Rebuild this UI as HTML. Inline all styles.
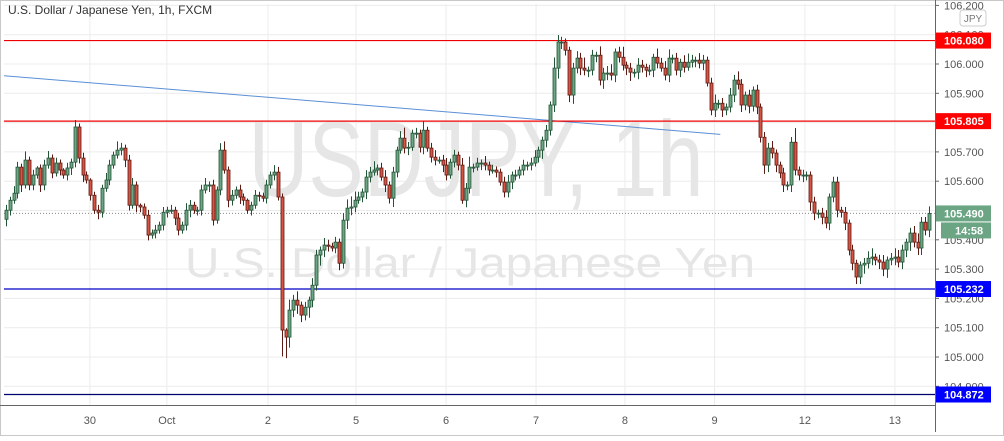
<!DOCTYPE html>
<html><head><meta charset="utf-8"><style>
body{margin:0;background:#fff;width:1004px;height:436px;overflow:hidden;font-family:"Liberation Sans",sans-serif}
svg text{font-family:"Liberation Sans",sans-serif}
</style></head><body>
<svg id="chart" width="1004" height="436" viewBox="0 0 1004 436" xmlns="http://www.w3.org/2000/svg">
<rect x="0.5" y="0.5" width="1003" height="435" fill="#fff" stroke="#c8c8c8"/>
<g id="grid"></g>
<text x="476" y="196" font-size="108" fill="#e6e6e6" text-anchor="middle" textLength="455" lengthAdjust="spacingAndGlyphs">USDJPY, 1h</text>
<text x="470" y="277" font-size="42" fill="#e6e6e6" text-anchor="middle" textLength="570" lengthAdjust="spacingAndGlyphs">U.S. Dollar / Japanese Yen</text>
<g id="lines"></g>
<g id="candles"></g>
<g id="axes"></g>
<text x="8" y="14" font-size="12" fill="#333">U.S. Dollar / Japanese Yen, 1h, FXCM</text>
</svg>
<script>
const closes=[105.501,105.535,105.559,105.648,105.587,105.672,105.587,105.621,105.645,105.587,105.655,105.679,105.628,105.662,105.638,105.621,105.645,105.665,105.785,105.679,105.621,105.604,105.552,105.501,105.494,105.576,105.604,105.655,105.689,105.706,105.713,105.672,105.518,105.587,105.518,105.512,105.484,105.416,105.423,105.433,105.450,105.494,
105.501,105.501,105.474,105.433,105.450,105.501,105.518,105.501,105.501,105.570,105.587,105.587,105.467,105.570,105.706,105.638,105.535,105.552,105.570,105.546,105.535,105.501,105.518,105.552,105.549,105.542,105.587,105.621,105.631,105.546,105.092,105.068,105.160,105.194,105.177,105.143,105.170,105.194,105.245,105.348,105.365,105.382,105.378,105.372,105.392,105.320,105.467,105.508,105.512,105.535,
105.546,105.563,105.614,105.631,105.638,105.645,105.614,105.587,105.542,105.631,105.706,105.747,105.713,105.716,105.764,105.764,105.716,105.774,105.713,105.682,105.672,105.672,105.655,105.621,105.665,105.689,105.655,105.535,105.576,105.648,105.648,105.662,105.662,105.655,105.638,105.638,105.631,105.597,105.563,105.597,105.621,105.621,105.638,105.655,105.655,105.662,105.682,
105.706,105.740,105.774,105.860,105.986,106.075,106.075,106.047,105.894,105.986,106.020,105.986,105.979,105.979,106.030,106.030,105.945,105.969,105.969,105.962,106.041,106.023,105.996,105.986,105.972,105.972,105.996,105.989,105.979,105.979,106.023,106.003,105.986,105.962,106.020,106.020,105.979,106.006,105.989,106.006,106.013,106.013,106.003,106.013,105.935,105.843,105.866,105.866,105.843,
105.853,105.894,105.945,105.931,105.860,105.894,105.856,105.911,105.853,105.750,105.655,105.713,105.696,105.655,105.628,105.587,105.587,105.733,105.638,105.621,105.621,105.621,105.529,105.491,105.491,105.477,105.457,105.546,105.597,105.501,105.494,105.457,105.365,105.320,105.273,105.314,105.320,105.337,105.341,105.331,105.324,105.300,105.331,105.337,105.341,105.324,105.365,105.392,105.423,105.392,105.372,105.460,105.433,105.490];
const firstOpen=105.470;
const wickUp=[3,2,4,3,2,5,2,3,1,2,3,4,2,3,2,1,3,2,4,2,3,2,1,2,3,2,4,3,2,5,3,2,3,4,2,1,2,3,2,3,2,3,
2,3,2,3,2,4,3,2,2,3,4,2,3,2,4,5,2,3,2,3,2,1,2,3,2,2,3,2,4,3,2,1,6,3,5,2,3,2,4,3,2,4,3,2,3,2,4,5,6,5,3,
2,4,3,5,2,3,4,2,3,2,4,6,3,2,3,2,5,2,3,4,2,3,4,2,3,2,4,3,6,2,3,2,4,2,3,2,2,3,4,2,3,2,3,2,3,4,2,
2,3,2,6,4,3,2,2,3,4,3,6,2,3,2,5,3,4,5,2,3,6,2,3,2,4,3,2,3,2,5,3,4,5,2,3,2,4,5,3,2,4,3,2,3,5,2,3,2,
4,3,5,3,2,3,2,3,2,3,3,4,2,2,3,2,3,8,2,3,2,2,3,2,3,4,2,3,3,2,3,2,3,2,2,3,4,5,2,3,4,2,3,5,4,3,2,3,4,5,3,3,4,3];
const wickDn=[4,3,2,3,4,2,3,3,2,4,3,2,3,2,3,2,3,4,3,3,4,2,3,2,4,3,2,3,2,2,3,4,3,2,4,3,2,3,2,3,2,3,
3,2,4,3,2,3,4,2,3,3,2,4,3,2,3,2,4,3,2,4,3,2,3,2,3,2,3,2,3,2,15,12,6,4,5,4,3,6,4,3,6,4,3,2,3,4,3,5,4,3,2,
3,4,3,2,3,2,4,3,5,3,2,3,4,2,3,3,4,2,3,3,2,4,3,2,3,3,2,4,3,3,2,4,3,3,2,3,2,3,3,4,3,2,3,3,3,2,3,
5,4,3,4,6,4,3,4,5,3,4,3,4,3,4,3,5,4,3,4,3,3,4,5,3,4,3,4,3,4,3,2,3,4,3,3,4,3,2,3,4,3,4,2,3,4,3,4,3,
3,4,3,4,3,4,3,4,3,5,4,3,4,3,4,3,4,3,3,4,3,5,4,3,4,3,4,3,4,3,4,3,4,4,4,5,3,4,3,4,4,5,3,4,3,4,4,5,3,4,4,3,4,3];
const priceTicks=[106.2,106.1,106.0,105.9,105.8,105.7,105.6,105.5,105.4,105.3,105.2,105.1,105.0,104.9];
const timeTickLabels=["30","Oct","2","5","6","7","8","9","12","13"];
const timeTickIdx=[21.9,42,68.4,91.4,114.9,138.4,161.6,185,208.6,232.1];
const levelPrices=[106.080,105.805,105.232,104.872];
const levelColors=["#f00000","#f00000","#0000c8","#00006e"];
const levelBoxColors=["#ff0000","#ff0000","#0000ff","#0000ff"];
const trendStart=[-0.5,105.960];const trendEnd=[186.5,105.760];
const lastPrice=105.490;

const NS="http://www.w3.org/2000/svg";
const PL=4,PR=935,PT=4,PB=405;
const y=p=>64+(106-p)*293;
const x=i=>6+i*(929-6)/(closes.length-1);
function mk(t,a,parent){const e=document.createElementNS(NS,t);for(const k in a)e.setAttribute(k,a[k]);parent.appendChild(e);return e;}
const grid=document.getElementById('grid'),lines=document.getElementById('lines'),cg=document.getElementById('candles'),ax=document.getElementById('axes');
priceTicks.forEach(p=>{const l=mk('line',{x1:PL,x2:PR,y1:y(p),y2:y(p),stroke:'#ececec'},grid);

});
timeTickIdx.forEach((t,k)=>{const l=mk('line',{x1:x(t),x2:x(t),y1:PT,y2:PB,stroke:'#ececec'},grid);


const tx=mk('text',{x:x(t),y:424,'font-size':11,fill:'#555','text-anchor':'middle'},ax);tx.textContent=timeTickLabels[k];

});
const tl=mk('line',{x1:x(trendStart[0]),y1:y(trendStart[1]),x2:x(trendEnd[0]),y2:y(trendEnd[1]),stroke:'#5b8fd6','stroke-width':1},lines);


levelPrices.forEach((p,k)=>{const l=mk('line',{x1:PL,x2:PR,y1:y(p),y2:y(p),stroke:levelColors[k],'stroke-width':1.2},lines);

});
const dl=mk('line',{x1:PL,x2:PR,y1:y(lastPrice),y2:y(lastPrice),stroke:'#888','stroke-dasharray':'1,2'},lines);


closes.forEach((c,i)=>{const o=i?closes[i-1]:firstOpen;const up=c>=o;
const hi=Math.max(o,c)+wickUp[i]*0.01*0.6, lo=Math.min(o,c)-wickDn[i]*0.01*0.6;
const cx=Math.round(x(i))+0.5;const g=mk('g',{},cg);


mk('line',{x1:cx,x2:cx,y1:y(hi),y2:y(lo),stroke:up?'#225437':'#5b1a13'},g);
const t=y(Math.max(o,c)),b=y(Math.min(o,c));
mk('rect',{x:cx-1.5,y:t,width:3,height:Math.max(1,b-t),fill:up?'#6ba583':'#d75442',stroke:up?'#225437':'#5b1a13','stroke-width':0.8},g);});
mk('line',{x1:PR+0.5,x2:PR+0.5,y1:0,y2:432,stroke:'#666'},ax);
mk('line',{x1:0,x2:PR,y1:PB+0.5,y2:PB+0.5,stroke:'#666'},ax);
priceTicks.forEach(p=>{const yy=y(p);if(yy<0||yy>PB)return;
mk('line',{x1:PR,x2:PR+4,y1:yy,y2:yy,stroke:'#666'},ax);
const t=mk('text',{x:PR+9,y:yy+4,'font-size':11,fill:'#555'},ax);t.textContent=p.toFixed(3);

});
const ju=mk('rect',{x:PR+38-13,y:10,width:26,height:16,rx:3,fill:'#fff',stroke:'#ccc'},ax);


const jt=mk('text',{x:PR+38,y:22,'font-size':10,fill:'#777','text-anchor':'middle'},ax);jt.textContent='JPY';


function box(p,col,label,yy,nm){const r=mk('rect',{x:PR+1,y:yy-8,width:55,height:16,fill:col},ax);


const t=mk('text',{x:PR+9,y:yy+4,'font-size':11,'font-weight':'bold',fill:'#fff'},ax);t.textContent=label;}
levelPrices.forEach((p,k)=>box(p,levelBoxColors[k],p.toFixed(3),y(p),'level-price-label'));
box(lastPrice,'#6ba583',lastPrice.toFixed(3),y(lastPrice),'last-price-label');
const cr=mk('rect',{x:PR+6,y:y(lastPrice)+9,width:50,height:16,fill:'#6ba583'},ax);


const ct=mk('text',{x:PR+20,y:y(lastPrice)+21,'font-size':11,'font-weight':'bold',fill:'#fff'},ax);ct.textContent='14:58';
</script>
</body></html>
